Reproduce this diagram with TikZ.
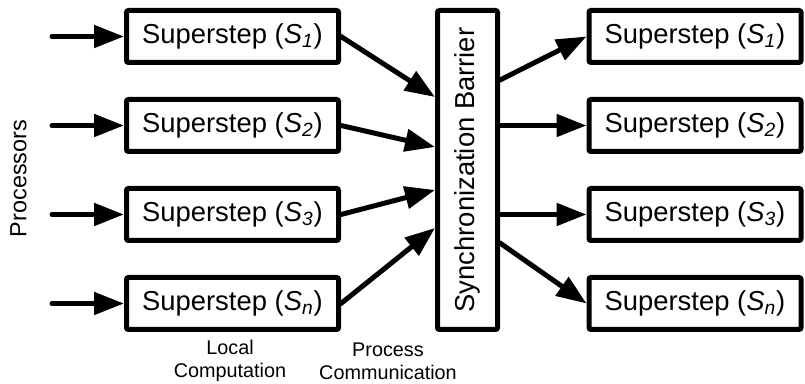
\documentclass[tikz,border=0pt]{standalone}
\usepackage{fontspec}
\setmainfont{Liberation Sans}
\usepackage{graphicx}
\usetikzlibrary{positioning,arrows.meta}
\definecolor{bspInk}{HTML}{000000}
\newcommand{\sstep}[1]{Superstep (\textit{S}\textsubscript{\textit{#1}})}

\begin{document}
\begin{tikzpicture}[x=0.5pt,y=0.5pt,
                    font=\fontsize{13.7}{16}\selectfont,
                    stepbox/.style={draw=bspInk,line width=2.5pt,rounded corners=1pt,
                                    minimum width=106pt,minimum height=26pt,inner sep=2pt},
                    flow/.style={-{Triangle[length=15pt,width=11pt]},
                                 line width=2.5pt,line cap=round,bspInk},
                    note/.style={align=center,font=\fontsize{9.9}{11.5}\selectfont}]
  \useasboundingbox (0,0) rectangle (805,-384);
  % local computation on each processor
  \node[stepbox] (lbox1) at (232.5,-36.5) {\sstep{1}};
  \node[stepbox,below=16pt of lbox1] (lbox2) {\sstep{2}};
  \node[stepbox,below=16pt of lbox2] (lbox3) {\sstep{3}};
  \node[stepbox,below=16pt of lbox3] (lbox4) {\sstep{n}};
  % the barrier everyone waits at
  \node[draw=bspInk,line width=2.5pt,rounded corners=1pt,minimum width=30pt,
        minimum height=159.5pt,inner sep=0pt] (barrier) at (467.5,-170)
        {\rotatebox{90}{Synchronization Barrier}};
  % next superstep
  \node[stepbox] (rbox1) at (695,-36.5) {\sstep{1}};
  \node[stepbox,below=16pt of rbox1] (rbox2) {\sstep{2}};
  \node[stepbox,below=16pt of rbox2] (rbox3) {\sstep{3}};
  \node[stepbox,below=16pt of rbox3] (rbox4) {\sstep{n}};

  \coordinate[left=36pt of lbox1] (in1);
  \coordinate[left=36pt of lbox2] (in2);
  \coordinate[left=36pt of lbox3] (in3);
  \coordinate[left=36pt of lbox4] (in4);
  \draw[flow] (in1) -- (lbox1);
  \draw[flow] (in2) -- (lbox2);
  \draw[flow] (in3) -- (lbox3);
  \draw[flow] (in4) -- (lbox4);

  \draw[flow] (lbox1.east) -- ([yshift=36.5pt]barrier.west);
  \draw[flow] (lbox2.east) -- ([yshift=11.5pt]barrier.west);
  \draw[flow] (lbox3.east) -- ([yshift=-10pt]barrier.west);
  \draw[flow] (lbox4.east) -- ([yshift=-29pt]barrier.west);

  \draw[flow] ([yshift=45pt]barrier.east) -- (rbox1.west);
  \draw[flow] (barrier.east |- rbox2) -- (rbox2.west);
  \draw[flow] (barrier.east |- rbox3) -- (rbox3.west);
  \draw[flow] ([yshift=-36.5pt]barrier.east) -- (rbox4.west);

  \node[rotate=90,font=\fontsize{11.7}{14}\selectfont] (procs) at (18.5,-178.5) {Processors};
  \node[note] (local) at (230,-361) {Local\\Computation};
  \node[note] (comm) at (388,-361) {Process\\Communication};
\end{tikzpicture}
\end{document}
